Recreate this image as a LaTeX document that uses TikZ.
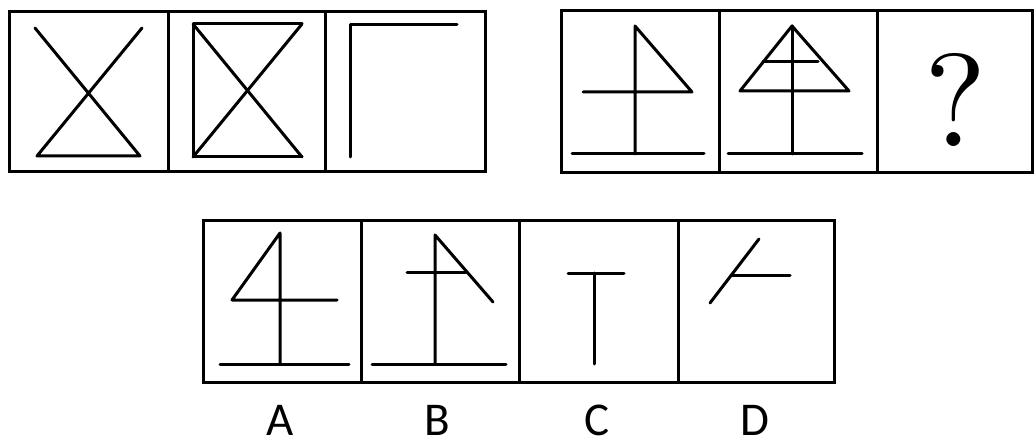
\documentclass[tikz,border=0pt]{standalone}
\usepackage{fontspec}
\newfontfamily\labelfont{Carlito}
\begin{document}
\begin{tikzpicture}[x=1pt,y=-1pt,
  frame/.style={line width=3pt},
  fig/.style={line width=3pt, line cap=round, line join=round},
  optlabel/.style={font=\labelfont\fontsize{47}{47}\selectfont, inner sep=0pt, anchor=base}]
\useasboundingbox (0,0) rectangle (1034,441);
% ---- top-left row ----
\draw[frame] (9,12) rectangle (485,172);
\draw[frame] (168,12) -- (168,172);
\draw[frame] (325,12) -- (325,172);
% panel 1
\draw[fig] (35,28) -- (140,156) -- (37,156) -- (142,28);
% panel 2
\draw[fig] (302,24) -- (193,24) -- (193,157) -- (302,157);
\draw[fig] (193,24) -- (302,157);
\draw[fig] (302,24) -- (193,157);
% panel 3
\draw[fig] (350,157) -- (350,25) -- (457,25);
% ---- top-right row ----
\draw[frame] (561,11) rectangle (1032,173);
\draw[frame] (719,11) -- (719,173);
\draw[frame] (877,11) -- (877,173);
% panel 1
\draw[fig] (635,154) -- (635,26) -- (692,92) -- (583,92);
\draw[fig] (572,154) -- (704,154);
% panel 2
\draw[fig] (740,91) -- (792,26) -- (849,91) -- cycle;
\draw[fig] (792,26) -- (792,154);
\draw[fig] (763,62) -- (818,62);
\draw[fig] (728,154) -- (862,154);
% panel 3
\node[inner sep=0pt, scale=13.2] (q) at (956,100) {?};
% ---- options ----
\draw[frame] (203,220) rectangle (834,382);
\draw[frame] (361,220) -- (361,382);
\draw[frame] (519,220) -- (519,382);
\draw[frame] (678,220) -- (678,382);
% A
\draw[fig] (280,364) -- (280,233) -- (232,300) -- (337,300);
\draw[fig] (220,364) -- (349,364);
% B
\draw[fig] (435,364) -- (435,235) -- (493,302);
\draw[fig] (407,272) -- (466,272);
\draw[fig] (372,364) -- (506,364);
% C
\draw[fig] (568,273) -- (624,273);
\draw[fig] (594,273) -- (594,364);
% D
\draw[fig] (759,239) -- (710,303);
\draw[fig] (732,275) -- (790,275);
% labels
\node[optlabel] (la) at (280,435) {A};
\node[optlabel] (lb) at (437,435) {B};
\node[optlabel] (lc) at (597,435) {C};
\node[optlabel] (ld) at (755,435) {D};
\end{tikzpicture}
\end{document}
